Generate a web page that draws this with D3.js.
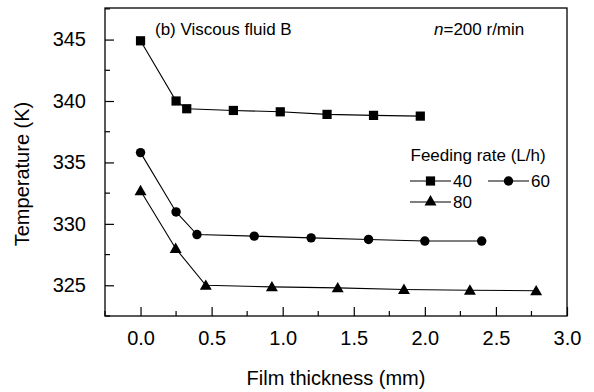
<!DOCTYPE html>
<html>
<head>
<meta charset="utf-8">
<script src="https://cdn.jsdelivr.net/npm/d3@7"></script>
<style>
  body { margin: 0; background: #fff; }
  text { font-family: "Liberation Sans", Arial, sans-serif; fill: #000; }
</style>
</head>
<body>
<div id="chart"></div>
<script>
// data
const thick40 = [0.0, 0.25, 0.325, 0.653, 0.983, 1.312, 1.639, 1.968];
const temp40  = [344.9, 340.0, 339.37, 339.23, 339.12, 338.91, 338.83, 338.77];
const thick60 = [0.0, 0.25, 0.397, 0.8, 1.2, 1.604, 2.0, 2.4];
const temp60  = [335.8, 330.97, 329.13, 329.0, 328.86, 328.73, 328.6, 328.6];
const thick80 = [0.0, 0.247, 0.459, 0.924, 1.387, 1.853, 2.317, 2.783];
const temp80  = [332.7, 328.0, 325.0, 324.87, 324.79, 324.66, 324.6, 324.55];
const xTicks = [0.0, 0.5, 1.0, 1.5, 2.0, 2.5, 3.0];
const yTicks = [325, 330, 335, 340, 345];

const series = [
  { name: "40", sym: d3.symbolSquare, size: 85, xs: thick40, ys: temp40 },
  { name: "60", sym: d3.symbolCircle, size: 70, xs: thick60, ys: temp60 },
  { name: "80", sym: d3.symbolTriangle, size: 62, xs: thick80, ys: temp80 }
];

const W = 594, H = 392;
const m = { left: 105, right: 27, top: 8, bottom: 76 };
const svg = d3.select("#chart").append("svg").attr("width", W).attr("height", H);

const x = d3.scaleLinear().domain([-0.25, 3.0]).range([m.left, W - m.right]);
const y = d3.scaleLinear().domain([322.5, 347.57]).range([H - m.bottom, m.top]);

// axes with inward ticks
const xMinor = d3.range(-0.25, 3.0001, 0.25).filter(v => !xTicks.some(t => Math.abs(t - v) < 1e-6));
const yMinor = d3.range(322.5, 347.6, 2.5).filter(v => !yTicks.includes(v));

const gx = svg.append("g").attr("transform", `translate(0,${H - m.bottom})`);
gx.call(d3.axisBottom(x).tickValues(xTicks).tickFormat(d3.format(".1f")).tickSizeInner(-9).tickSizeOuter(0).tickPadding(15));
gx.selectAll("text").style("font-size", "20px");
gx.selectAll(".domain").remove();
gx.selectAll(".tick line").attr("stroke-width", 1.2);
gx.selectAll(".minor").data(xMinor).join("line")
  .attr("x1", d => x(d)).attr("x2", d => x(d)).attr("y1", 0).attr("y2", -5)
  .attr("stroke", "#000").attr("stroke-width", 1.2);

const gy = svg.append("g").attr("transform", `translate(${m.left},0)`);
gy.call(d3.axisLeft(y).tickValues(yTicks).tickFormat(d3.format("d")).tickSizeInner(-9).tickSizeOuter(0).tickPadding(19));
gy.selectAll("text").style("font-size", "20px");
gy.selectAll(".domain").remove();
gy.selectAll(".tick line").attr("stroke-width", 1.2);
gy.selectAll(".minor").data(yMinor).join("line")
  .attr("y1", d => y(d)).attr("y2", d => y(d)).attr("x1", 0).attr("x2", 5)
  .attr("stroke", "#000").attr("stroke-width", 1.2);

// frame
svg.append("rect")
  .attr("x", m.left).attr("y", m.top)
  .attr("width", W - m.left - m.right).attr("height", H - m.top - m.bottom)
  .attr("fill", "none").attr("stroke", "#000").attr("stroke-width", 1.3);

// series
const line = d3.line().x(d => x(d[0])).y(d => y(d[1]));
series.forEach(s => {
  const pts = s.xs.map((v, i) => [v, s.ys[i]]);
  svg.append("path").datum(pts).attr("d", line)
    .attr("fill", "none").attr("stroke", "#000").attr("stroke-width", 1.1);
  svg.append("g").selectAll("path").data(pts).join("path")
    .attr("transform", d => `translate(${x(d[0])},${y(d[1]) + (s.sym === d3.symbolTriangle ? 1 : 0)})`)
    .attr("d", d3.symbol().type(s.sym).size(s.size))
    .attr("fill", "#000");
});

// annotations
svg.append("text").attr("x", 155).attr("y", 35).style("font-size", "17px").text("(b) Viscous fluid B");
const nt = svg.append("text").attr("x", 434).attr("y", 35).style("font-size", "17px");
nt.append("tspan").style("font-style", "italic").text("n");
nt.append("tspan").text("=200 r/min");

// legend
const lg = svg.append("g");
lg.append("text").attr("x", 410.5).attr("y", 161).style("font-size", "17px").text("Feeding rate (L/h)");
const legendPos = [[410, 181], [488, 181], [410, 202]];
series.forEach((s, i) => {
  const [lx, ly] = legendPos[i];
  lg.append("line").attr("x1", lx).attr("x2", lx + 41).attr("y1", ly).attr("y2", ly)
    .attr("stroke", "#000").attr("stroke-width", 1.1);
  lg.append("path").attr("transform", `translate(${lx + 20.5},${ly})`)
    .attr("d", d3.symbol().type(s.sym).size(s.size)).attr("fill", "#000");
  lg.append("text").attr("x", lx + 43).attr("y", ly + 6).style("font-size", "17px").text(s.name);
});

// axis titles
svg.append("text").attr("x", x(1.375)).attr("y", 385).attr("text-anchor", "middle")
  .style("font-size", "20px").text("Film thickness (mm)");
svg.append("text").attr("transform", "translate(29,174) rotate(-90)").attr("text-anchor", "middle")
  .style("font-size", "20px").text("Temperature (K)");
</script>
</body>
</html>
